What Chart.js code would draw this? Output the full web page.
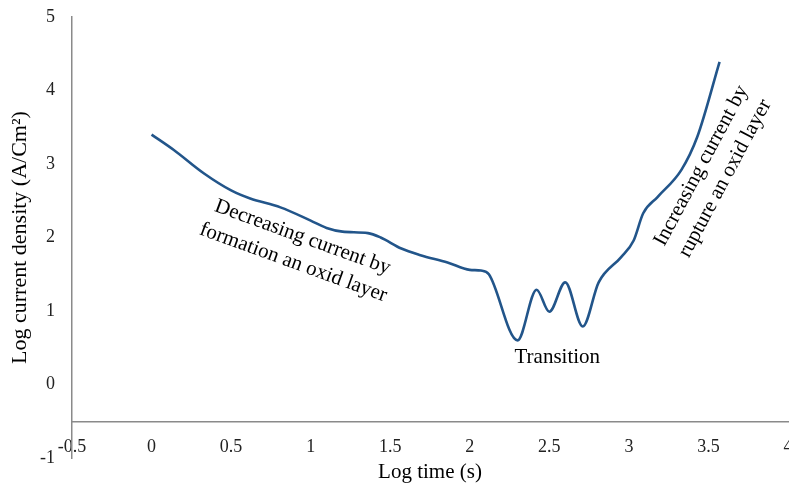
<!DOCTYPE html>
<html>
<head>
<meta charset="utf-8">
<script src="https://cdn.jsdelivr.net/npm/chart.js@4.4.1/dist/chart.umd.min.js"></script>
<style>
  html, body { margin: 0; padding: 0; background: #fff; }
  canvas { display: block; }
</style>
</head>
<body>
<canvas id="chart1" width="789" height="486"></canvas>
<script>
"use strict";
// values
const logTime = [0, 0.14, 0.33, 0.5, 0.62, 0.81, 1.0, 1.1, 1.2, 1.36, 1.44, 1.57, 1.69, 1.86, 2.0, 2.07, 2.12, 2.3, 2.42, 2.5, 2.6, 2.71, 2.81, 2.95, 3.03, 3.09, 3.18, 3.33, 3.43, 3.57];
const logCurrent = [3.4, 3.19, 2.87, 2.64, 2.53, 2.41, 2.23, 2.13, 2.08, 2.06, 2.0, 1.85, 1.76, 1.66, 1.56, 1.55, 1.5, 0.6, 1.29, 0.99, 1.39, 0.79, 1.39, 1.73, 1.96, 2.33, 2.55, 2.92, 3.37, 4.39];
const xTicks = { min: -0.5, max: 4, step: 0.5 };
const yTicks = { min: -1, max: 5, step: 1 };

const notes = [
    { lines: ["Decreasing current by", "formation an oxid layer"], x: 0.92, y: 1.83, angle: 20 },
    { lines: ["Transition"], x: 2.55, y: 0.37, angle: 0 },
    { lines: ["Increasing current by", "rupture an oxid layer"], x: 3.53, y: 2.89, angle: -62 },
];

const serif = "'Liberation Serif', 'Times New Roman', serif";
const fmt = v => String(Number(v.toFixed(2)));

const notesPlugin = {
    id: "notes",
    afterDatasetsDraw(chart) {
        const ctx = chart.ctx;
        const xs = chart.scales.x;
        const ys = chart.scales.y;
        ctx.save();
        ctx.font = "21px " + serif;
        ctx.fillStyle = "#000";
        ctx.textAlign = "center";
        ctx.textBaseline = "middle";
        notes.forEach(n => {
            ctx.save();
            ctx.translate(xs.getPixelForValue(n.x), ys.getPixelForValue(n.y));
            ctx.rotate(n.angle * Math.PI / 180);
            const lh = 27;
            n.lines.forEach((t, i) => {
                ctx.fillText(t, 0, (i - (n.lines.length - 1) / 2) * lh);
            });
            ctx.restore();
        });
        ctx.restore();
    }
};

const points = logTime.map((t, i) => ({ x: t, y: logCurrent[i] }));

const chart1Config = {
    type: "line",
    data: {
        datasets: [
            {
                data: points,
                borderColor: "#22558a",
                borderWidth: 2.6,
                pointRadius: 0,
                fill: false,
                tension: 0.4,
                cubicInterpolationMode: "monotone",
            },
        ],
    },
    options: {
        responsive: false,
        animation: false,
        layout: { padding: { top: 17, right: 1, bottom: 28, left: 0 } },
        plugins: {
            legend: { display: false },
            tooltip: { enabled: false },
        },
        scales: {
            x: {
                type: "linear",
                position: { y: -0.5 },
                min: xTicks.min,
                max: xTicks.max,
                grid: { display: false, drawTicks: false },
                border: { display: true, color: "#8a8a8a", width: 1.5 },
                ticks: {
                    stepSize: xTicks.step,
                    padding: 15,
                    color: "#222",
                    font: { family: serif, size: 18 },
                    maxRotation: 0,
                    callback: fmt,
                },
                title: {
                    display: true,
                    text: "Log time (s)",
                    color: "#000",
                    font: { family: serif, size: 21 },
                    padding: 0,
                },
                afterFit(scale) {
                    scale.paddingLeft = 0;
                    scale.paddingRight = 0;
                    scale.height = 64;
                },
            },
            y: {
                type: "linear",
                position: "left",
                min: yTicks.min,
                max: yTicks.max,
                grid: { display: false, drawTicks: false },
                border: { display: true, color: "#8a8a8a", width: 1.5 },
                ticks: {
                    stepSize: yTicks.step,
                    padding: 17,
                    color: "#222",
                    font: { family: serif, size: 18 },
                    callback: fmt,
                },
                title: {
                    display: true,
                    text: "Log current density (A/Cm²)",
                    color: "#000",
                    font: { family: serif, size: 22 },
                    padding: { top: 7, bottom: 0 },
                },
                afterFit(scale) {
                    scale.width = 72;
                    scale.paddingTop = 0;
                    scale.paddingBottom = 0;
                },
            },
        },
    },
    plugins: [notesPlugin],
};

new Chart(document.querySelector("#chart1"), chart1Config);
</script>
</body>
</html>
